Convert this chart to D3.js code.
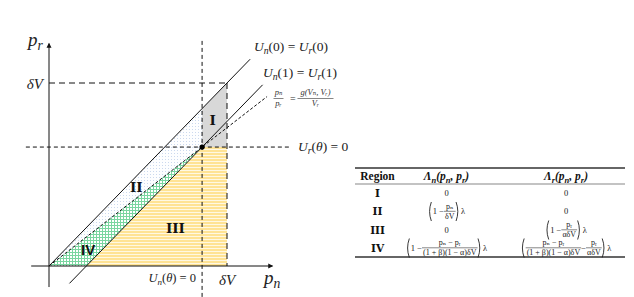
<!DOCTYPE html>
<html>
<head>
<meta charset="utf-8">
<script src="https://cdn.jsdelivr.net/npm/d3@7"></script>
<style>
  body { margin: 0; background: #fff; }
  svg { display: block; }
</style>
</head>
<body>
<svg id="chart" width="634" height="297"></svg>
<script>
// ---- data (in units of deltaV) ----
const dV = 1;
const kink = [0.86, 0.65];          // Un(θ)=0 meets Ur(θ)=0
const shift = 0.21;                 // p_n intercept of Un(1)=Ur(1)
const regionNames = ['I', 'II', 'III', 'IV'];
const regionLabelAt = [[0.92, 0.80], [0.49, 0.43], [0.71, 0.21], [0.22, 0.09]];
const tableHeader = ['Region', 'Λn', 'Λr'];

// table cells: string = text, {f:[num,den]} = fraction, {p:[...]} = parens followed by λ
const lambdaN = [
  ['0'],
  [{ p: ['1 − ', { f: ['pₙ', 'δV'] }] }],
  ['0'],
  [{ p: ['1 − ', { f: ['pₙ − pᵣ', '(1 + β)(1 − α)δV'] }] }]
];
const lambdaR = [
  ['0'],
  ['0'],
  [{ p: ['1 − ', { f: ['pᵣ', 'αδV'] }] }],
  [{ p: [{ f: ['pₙ − pᵣ', '(1 + β)(1 − α)δV'] }, ' − ', { f: ['pᵣ', 'αδV'] }] }]
];

const svg = d3.select('#chart');
const x = d3.scaleLinear().domain([0, dV]).range([49, 227]);
const y = d3.scaleLinear().domain([0, dV]).range([266, 83]);

// ---- patterns ----
const defs = svg.append('defs');
const stripes = defs.append('pattern').attr('id', 'stripes')
  .attr('patternUnits', 'userSpaceOnUse').attr('width', 4).attr('height', 3);
stripes.append('rect').attr('width', 4).attr('height', 3).attr('fill', '#fff8e2');
stripes.append('rect').attr('width', 4).attr('height', 2).attr('fill', '#ffe394');

const hatch = defs.append('pattern').attr('id', 'hatch')
  .attr('patternUnits', 'userSpaceOnUse').attr('width', 3).attr('height', 3);
hatch.append('rect').attr('width', 3).attr('height', 3).attr('fill', '#ffffff');
hatch.append('rect').attr('width', 3).attr('height', 1).attr('fill', '#7ad6a0');
hatch.append('rect').attr('width', 1).attr('height', 3).attr('fill', '#7ad6a0');

const dots = defs.append('pattern').attr('id', 'dots')
  .attr('patternUnits', 'userSpaceOnUse').attr('width', 3).attr('height', 3);
dots.append('rect').attr('width', 3).attr('height', 3).attr('fill', '#fdfeff');
dots.append('rect').attr('width', 1).attr('height', 1).attr('fill', '#cbd9ee');

// ---- regions ----
const [kn, kr] = kink;
const regions = [
  { pts: [[kn, kr], [kn, kn], [dV, dV], [dV, kr]], fill: '#d8d8d8' },
  { pts: [[0, 0], [kn, kn], [kn, kr]], fill: 'url(#dots)' },
  { pts: [[shift, 0], [kn, kr], [dV, kr], [dV, 0]], fill: 'url(#stripes)' },
  { pts: [[0, 0], [kn, kr], [shift, 0]], fill: 'url(#hatch)' }
];
const poly = d3.line().x(d => x(d[0])).y(d => y(d[1]));
svg.append('g').selectAll('path').data(regions).enter().append('path')
  .attr('d', d => poly(d.pts) + 'Z')
  .attr('fill', d => d.fill);

// ---- lines ----
const ratio = kr / kn;
const lines = [
  { a: [0, 0], b: [1.13, 1.13], dash: null },                        // Un(0)=Ur(0)
  { a: [0.115, 0.115 - shift], b: [1.2, 1.2 - shift], dash: null },  // Un(1)=Ur(1)
  { a: [0, 0], b: [1.225, 1.225 * ratio], dash: '3,2' },             // pn/pr
  { a: [-0.13, kr], b: [1.35, kr], dash: '4,3' },                    // Ur(θ)=0
  { a: [kn, 1.23], b: [kn, -0.17], dash: '4,3' },                    // Un(θ)=0
  { a: [0, dV], b: [dV, dV], dash: '6,4' },
  { a: [dV, dV], b: [dV, 0], dash: '6,4' }
];
svg.append('g').selectAll('line').data(lines).enter().append('line')
  .attr('x1', d => x(d.a[0])).attr('y1', d => y(d.a[1]))
  .attr('x2', d => x(d.b[0])).attr('y2', d => y(d.b[1]))
  .attr('stroke', '#111').attr('stroke-width', 1)
  .attr('stroke-dasharray', d => d.dash);

// axes
svg.append('line').attr('x1', x(-0.1)).attr('x2', x(1.255)).attr('y1', y(0)).attr('y2', y(0))
  .attr('stroke', '#111');
svg.append('line').attr('x1', x(0)).attr('x2', x(0)).attr('y1', y(-0.115)).attr('y2', y(1.215))
  .attr('stroke', '#111');
svg.append('path').attr('d', `M${x(1.26)},${y(0)} l-5,-2.5 l0,5 Z`).attr('fill', '#111');
svg.append('path').attr('d', `M${x(0)},${y(1.22)} l-2.5,5 l5,0 Z`).attr('fill', '#111');

svg.append('circle').attr('cx', x(kn)).attr('cy', y(kr)).attr('r', 2.6).attr('fill', '#000');

// ---- text helpers ----
const serif = "'Liberation Serif', 'DejaVu Serif', serif";
function mathLabel(px, py, segs, fs, anchor) {
  const t = svg.append('text').attr('x', px).attr('y', py)
    .attr('font-family', serif).attr('font-size', fs)
    .attr('text-anchor', anchor || 'start').attr('fill', '#222');
  let down = false;
  segs.forEach(([s, k]) => {
    const ts = t.append('tspan').text(s);
    if (k === 's') {
      ts.attr('font-size', fs * 0.72).attr('font-style', 'italic');
      if (!down) { ts.attr('dy', fs * 0.22); down = true; }
    } else {
      if (k === 'i') ts.attr('font-style', 'italic');
      if (down) { ts.attr('dy', -fs * 0.22); down = false; }
    }
  });
  return t;
}

mathLabel(28, 46, [['p', 'i'], ['r', 's']], 19);
mathLabel(43, 89, [['δV', 'i']], 15, 'end');
mathLabel(264, 284, [['p', 'i'], ['n', 's']], 19);
mathLabel(x(dV), 285, [['δV', 'i']], 15, 'middle');
mathLabel(196, 282, [['U', 'i'], ['n', 's'], ['(', 'r'], ['θ', 'i'], [') = 0', 'r']], 12.5, 'end');
mathLabel(254, 51, [['U', 'i'], ['n', 's'], ['(0) = ', 'r'], ['U', 'i'], ['r', 's'], ['(0)', 'r']], 13.5);
mathLabel(263, 77, [['U', 'i'], ['n', 's'], ['(1) = ', 'r'], ['U', 'i'], ['r', 's'], ['(1)', 'r']], 13.5);
mathLabel(298, 151, [['U', 'i'], ['r', 's'], ['(', 'r'], ['θ', 'i'], [') = 0', 'r']], 13.5);

// pn/pr = g(Vn,Vr)/Vr
function smallFrac(cx, num, den, fs, w) {
  svg.append('text').attr('x', cx).attr('y', 95).attr('text-anchor', 'middle')
    .attr('font-family', serif).attr('font-style', 'italic').attr('font-size', fs)
    .attr('fill', '#333').text(num);
  svg.append('line').attr('x1', cx - w / 2).attr('x2', cx + w / 2).attr('y1', 98.5).attr('y2', 98.5)
    .attr('stroke', '#333').attr('stroke-width', 0.6);
  svg.append('text').attr('x', cx).attr('y', 106).attr('text-anchor', 'middle')
    .attr('font-family', serif).attr('font-style', 'italic').attr('font-size', fs)
    .attr('fill', '#333').text(den);
}
smallFrac(278.5, 'pₙ', 'pᵣ', 8.5, 10);
svg.append('text').attr('x', 290).attr('y', 101.5).attr('font-family', serif).attr('font-size', 10)
  .attr('fill', '#333').text('=');
smallFrac(315.5, 'g(Vₙ, Vᵣ)', 'Vᵣ', 8.5, 36);

// region labels
svg.append('g').selectAll('text').data(regionNames).enter().append('text')
  .attr('x', (d, i) => x(regionLabelAt[i][0]))
  .attr('y', (d, i) => y(regionLabelAt[i][1]) + 5)
  .attr('text-anchor', 'middle')
  .attr('font-family', d => d === 'IV' ? "'Liberation Sans', sans-serif" : "'DejaVu Serif', serif")
  .attr('font-weight', 'bold').attr('font-size', d => d === 'IV' ? 15 : 13.5)
  .attr('fill', '#111')
  .text(d => d);

// ---- table ----
const tbl = svg.append('g');
const tx = { left: 355, right: 625, cols: [377.5, 446.5, 566] };
const rowY = [193, 211, 229.5, 247.5];
tbl.append('line').attr('x1', tx.left).attr('x2', tx.right).attr('y1', 168).attr('y2', 168)
  .attr('stroke', '#333').attr('stroke-width', 1.3);
tbl.append('line').attr('x1', tx.left).attr('x2', tx.right).attr('y1', 184).attr('y2', 184)
  .attr('stroke', '#555').attr('stroke-width', 0.7);
tbl.append('line').attr('x1', tx.left).attr('x2', tx.right).attr('y1', 257).attr('y2', 257)
  .attr('stroke', '#333').attr('stroke-width', 1.3);

// header
tbl.append('text').attr('x', tx.cols[0]).attr('y', 180).attr('text-anchor', 'middle')
  .attr('font-family', serif).attr('font-weight', 'bold').attr('font-size', 11.5).attr('fill', '#111')
  .text(tableHeader[0]);
[1, 2].forEach(c => {
  const t = tbl.append('text').attr('x', tx.cols[c]).attr('y', 180).attr('text-anchor', 'middle')
    .attr('font-family', serif).attr('font-weight', 'bold').attr('font-style', 'italic')
    .attr('font-size', 11.5).attr('fill', '#111');
  const sub = tableHeader[c].slice(1);
  t.append('tspan').text('Λ');
  t.append('tspan').attr('font-size', 8.5).attr('dy', 2.5).text(sub);
  t.append('tspan').attr('dy', -2.5).text('(p');
  t.append('tspan').attr('font-size', 8.5).attr('dy', 2.5).text('n');
  t.append('tspan').attr('dy', -2.5).text(', p');
  t.append('tspan').attr('font-size', 8.5).attr('dy', 2.5).text('r');
  t.append('tspan').attr('dy', -2.5).text(')');
});

// region column
tbl.selectAll('.rname').data(regionNames).enter().append('text')
  .attr('x', tx.cols[0]).attr('y', (d, i) => rowY[i] + 4).attr('text-anchor', 'middle')
  .attr('font-family', "'DejaVu Serif', serif").attr('font-weight', 'bold').attr('font-size', 10.5)
  .attr('fill', '#111')
  .text(d => d);

// expression layout
const fs = 8.5;
const ffs = 8;
function txt(g, s, px, py, size) {
  const t = g.append('text').attr('x', px).attr('y', py).attr('font-family', serif)
    .attr('font-size', size || fs).attr('fill', '#222').text(s);
  return t.node().getComputedTextLength();
}
function layout(g, toks, px) {
  toks.forEach(tk => {
    if (typeof tk === 'string') {
      px += txt(g, tk, px, 3);
    } else if (tk.f) {
      const tmp = g.append('g');
      const wn = txt(tmp, tk.f[0], 0, -2.3, ffs);
      const wd = txt(tmp, tk.f[1], 0, 7.6, ffs);
      tmp.remove();
      const w = Math.max(wn, wd) + 2;
      txt(g, tk.f[0], px + (w - wn) / 2, -2.3, ffs);
      txt(g, tk.f[1], px + (w - wd) / 2, 7.6, ffs);
      g.append('line').attr('x1', px).attr('x2', px + w).attr('y1', 0.3).attr('y2', 0.3)
        .attr('stroke', '#333').attr('stroke-width', 0.6);
      px += w;
    } else if (tk.p) {
      g.append('path').attr('d', `M${px + 3.5},-9 Q${px},0.5 ${px + 3.5},10`)
        .attr('fill', 'none').attr('stroke', '#222').attr('stroke-width', 0.9);
      px += 5;
      px = layout(g, tk.p, px);
      px += 0.5;
      g.append('path').attr('d', `M${px},-9 Q${px + 3.5},0.5 ${px},10`)
        .attr('fill', 'none').attr('stroke', '#222').attr('stroke-width', 0.9);
      px += 5;
      px += txt(g, 'λ', px, 3);
    }
  });
  return px;
}
[lambdaN, lambdaR].forEach((col, ci) => {
  col.forEach((toks, ri) => {
    const g = tbl.append('g');
    const w = layout(g, toks, 0);
    g.attr('transform', `translate(${tx.cols[ci + 1] - w / 2},${rowY[ri]})`);
  });
});
</script>
</body>
</html>
